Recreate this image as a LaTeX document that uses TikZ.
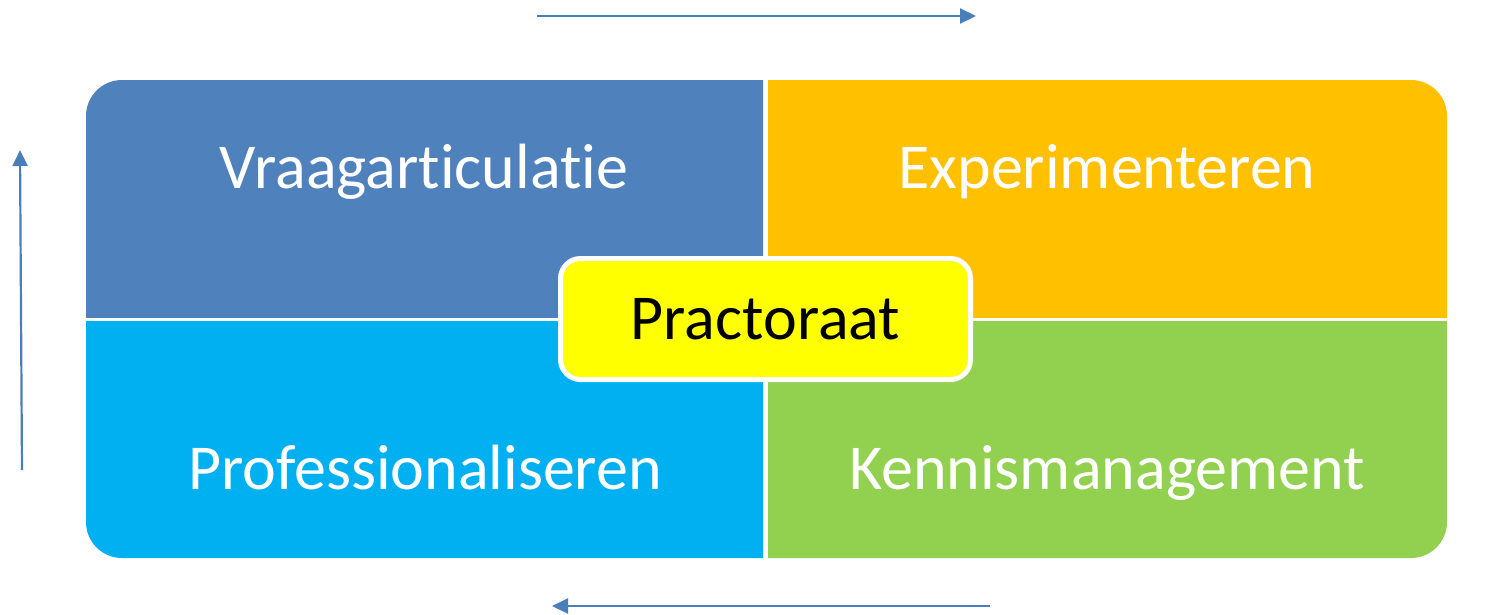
\documentclass[tikz,border=0pt]{standalone}
\usepackage{fontspec}
\setmainfont{Carlito}[Ligatures={NoCommon}]
\usetikzlibrary{arrows.meta}
\definecolor{qblue}{HTML}{4F81BD}
\definecolor{qorange}{HTML}{FFC000}
\definecolor{qcyan}{HTML}{00B0F0}
\definecolor{qgreen}{HTML}{92D050}
\definecolor{qyellow}{HTML}{FFFF00}
\definecolor{arrowblue}{HTML}{4A7EBB}
\begin{document}
\begin{tikzpicture}[x=1pt,y=-1pt,
  qlabel/.style={text=white,font=\fontsize{64}{68}\selectfont,inner sep=0pt,anchor=base},
  flow/.style={draw=arrowblue,line width=2.2pt,-{Triangle[length=16pt,width=15pt]}},
  centerbox/.style={draw=white,line width=5pt,fill=qyellow,rounded corners=20pt,
    minimum width=410pt,minimum height=121pt,inner sep=0pt,font=\fontsize{64}{68}\selectfont}]
\useasboundingbox (0,0) rectangle (1499,614);
% quadrants
\begin{scope}\clip (86,80) rectangle (763,317);
  \fill[qblue,rounded corners=36pt] (86,80) rectangle (1447,558);\end{scope}
\begin{scope}\clip (768,80) rectangle (1447,317);
  \fill[qorange,rounded corners=36pt] (86,80) rectangle (1447,558);\end{scope}
\begin{scope}\clip (86,321) rectangle (763,558);
  \fill[qcyan,rounded corners=36pt] (86,80) rectangle (1447,558);\end{scope}
\begin{scope}\clip (768,321) rectangle (1447,558);
  \fill[qgreen,rounded corners=36pt] (86,80) rectangle (1447,558);\end{scope}
% labels
\node[qlabel] (vraag) at (424,188) {Vraagarticulatie};
\node[qlabel] (exp) at (1107,188) {Experimenteren};
\node[qlabel] (prof) at (425,489) {Professionaliseren};
\node[qlabel] (kennis) at (1107,489) {Kennismanagement};
% center
\node[centerbox] (prac) at (765.5,319) {Practoraat};
% arrows
\coordinate (t1) at (537,16); \coordinate (t2) at (976,16);
\coordinate (l1) at (22,470); \coordinate (l2) at (20,150);
\coordinate (b1) at (990,606); \coordinate (b2) at (552,606);
\draw[flow] (t1) -- (t2);
\draw[flow] (l1) -- (l2);
\draw[flow] (b1) -- (b2);
\end{tikzpicture}
\end{document}
